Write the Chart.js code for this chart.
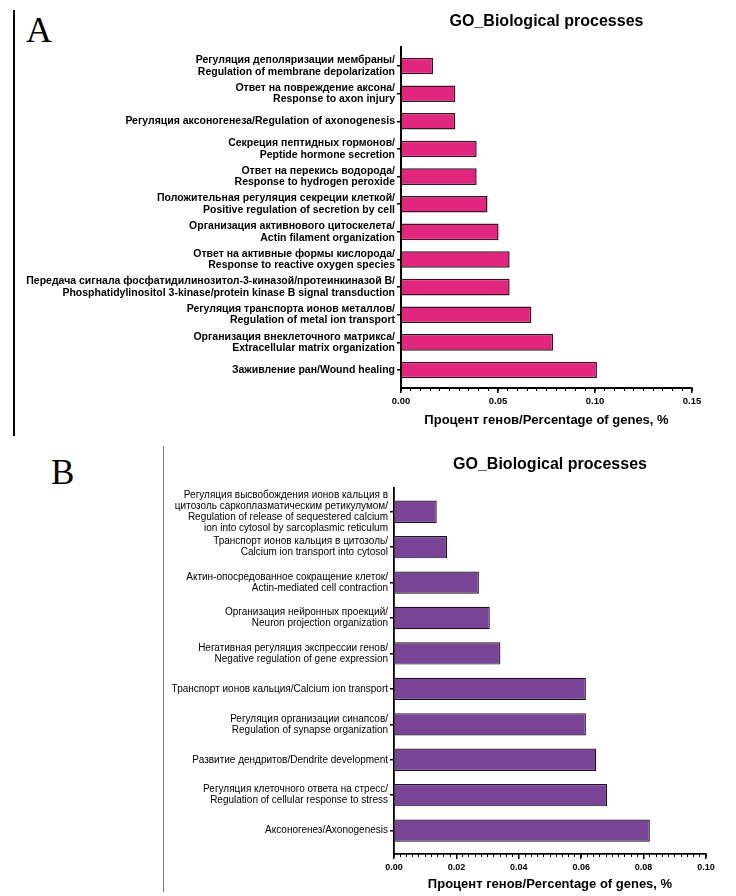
<!DOCTYPE html>
<html>
<head>
<meta charset="utf-8">
<script src="https://cdn.jsdelivr.net/npm/chart.js@4.4.1/dist/chart.umd.min.js"></script>
<style>
  body { margin: 0; background: #fff; }
  #page { position: relative; width: 736px; height: 896px; overflow: hidden; }
  canvas { position: absolute; left: 0; }
  #chartA { top: 0; }
  #chartB { top: 440px; }
  .letter { position: absolute; font-family: 'Liberation Serif', 'Times New Roman', serif; line-height: 1; color: #000; }
  .rule { position: absolute; }
</style>
</head>
<body>
<div id="page">
  <div class="rule" style="left:13px;top:10px;width:1.5px;height:426px;background:#000"></div>
  <div class="rule" style="left:163px;top:446px;width:1px;height:446px;background:#777"></div>
  <div class="letter" style="left:26px;top:12px;font-size:36px">A</div>
  <div class="letter" style="left:51px;top:455px;font-size:35px">B</div>
  <canvas id="chartA" width="736" height="440"></canvas>
  <canvas id="chartB" width="736" height="456"></canvas>
</div>
<script>
/* GO biological processes — two horizontal bar panels */

const TITLE = 'GO_Biological processes';
const X_TITLE = 'Процент генов/Percentage of genes, %';

// Panel A
const namesA = [
  ['Регуляция деполяризации мембраны/', 'Regulation of membrane depolarization'],
  ['Ответ на повреждение аксона/', 'Response to axon injury'],
  'Регуляция аксоногенеза/Regulation of axonogenesis',
  ['Секреция пептидных гормонов/', 'Peptide hormone secretion'],
  ['Ответ на перекись водорода/', 'Response to hydrogen peroxide'],
  ['Положительная регуляция секреции клеткой/', 'Positive regulation of secretion by cell'],
  ['Организация активнового цитоскелета/', 'Actin filament organization'],
  ['Ответ на активные формы кислорода/', 'Response to reactive oxygen species'],
  ['Передача сигнала фосфатидилинозитол-3-киназой/протеинкиназой B/', 'Phosphatidylinositol 3-kinase/protein kinase B signal transduction'],
  ['Регуляция транспорта ионов металлов/', 'Regulation of metal ion transport'],
  ['Организация внеклеточного матрикса/', 'Extracellular matrix organization'],
  'Заживление ран/Wound healing'
];
const valuesA = [0.0165, 0.028, 0.028, 0.039, 0.039, 0.0446, 0.0503, 0.056, 0.056, 0.0672, 0.0784, 0.101];
const ticksA = [0, 0.05, 0.10, 0.15];

// Panel B
const namesB = [
  ['Регуляция высвобождения ионов кальция в', 'цитозоль саркоплазматическим ретикулумом/', 'Regulation of release of sequestered calcium', 'ion into cytosol by sarcoplasmic reticulum'],
  ['Транспорт ионов кальция в цитозоль/', 'Calcium ion transport into cytosol'],
  ['Актин-опосредованное сокращение клеток/', 'Actin-mediated cell contraction'],
  ['Организация нейронных проекций/', 'Neuron projection organization'],
  ['Негативная регуляция экспрессии генов/', 'Negative regulation of gene expression'],
  'Транспорт ионов кальция/Calcium ion transport',
  ['Регуляция организации синапсов/', 'Regulation of synapse organization'],
  'Развитие дендритов/Dendrite development',
  ['Регуляция клеточного ответа на стресс/', 'Regulation of cellular response to stress'],
  'Аксоногенез/Axonogenesis'
];
const valuesB = [0.0137, 0.017, 0.0272, 0.0307, 0.0341, 0.0615, 0.0615, 0.0648, 0.0683, 0.082];
const ticksB = [0, 0.02, 0.04, 0.06, 0.08, 0.10];

const FONT = '"Liberation Sans", Arial, sans-serif';

// title centred over the plot area, like the original GraphPad layout
const panelTitle = {
  id: 'panelTitle',
  afterDraw(chart, args, o) {
    const { ctx, chartArea } = chart;
    ctx.save();
    ctx.font = 'bold 16px ' + FONT;
    ctx.fillStyle = '#000';
    ctx.textAlign = 'center';
    ctx.textBaseline = 'middle';
    ctx.fillText(o.text, (chartArea.left + chartArea.right) / 2, o.y);
    ctx.restore();
  }
};

function buildPanel(id, names, values, majorTicks, p) {
  const ctx = document.getElementById(id).getContext('2d');
  return new Chart(ctx, {
    type: 'bar',
    data: {
      datasets: [{
        data: values.map((v, i) => ({ x: v, y: i })),
        backgroundColor: p.fill,
        borderColor: p.edge,
        borderWidth: p.edgeWidth,
        borderSkipped: 'start',
        barPercentage: p.barPct,
        categoryPercentage: 1
      }]
    },
    options: {
      indexAxis: 'y',
      responsive: false,
      animation: false,
      layout: { padding: { left: 0, top: p.top, right: p.right, bottom: 0 } },
      plugins: {
        legend: { display: false },
        tooltip: { enabled: false },
        panelTitle: { text: TITLE, y: p.titleY }
      },
      scales: {
        y: {
          type: 'linear',
          reverse: true,
          offset: false,
          bounds: 'data',
          min: p.yMin,
          max: p.yMax,
          afterBuildTicks: s => { s.ticks = names.map((_, i) => ({ value: i })); },
          afterFit: s => { s.width = p.left; },
          border: { color: '#000', width: p.axisWidth },
          grid: { offset: false, drawOnChartArea: false, color: '#000', lineWidth: 1.5, tickLength: 4 },
          ticks: {
            autoSkip: false,
            padding: 2,
            color: '#000',
            font: { family: FONT, size: p.labelSize, weight: p.labelWeight, lineHeight: p.labelLine },
            callback: v => names[v]
          }
        },
        x: {
          type: 'linear',
          position: 'bottom',
          weight: 1,
          min: 0,
          max: majorTicks[majorTicks.length - 1],
          afterBuildTicks: s => { s.ticks = majorTicks.map(v => ({ value: v })); },
          afterFit: s => { s.height = p.xHeight; },
          border: { color: '#000', width: p.axisWidth },
          grid: { drawOnChartArea: false, color: '#000', lineWidth: 1.5, tickLength: 5 },
          ticks: {
            padding: 3,
            color: '#000',
            maxRotation: 0,
            font: { family: FONT, size: p.tickSize, weight: 'bold' },
            callback: v => v.toFixed(2)
          },
          title: {
            display: true,
            text: X_TITLE,
            color: '#000',
            font: { family: FONT, size: 13, weight: 'bold' },
            padding: { top: 0, bottom: p.titlePad }
          }
        },
        xMinor: {
          type: 'linear',
          position: 'bottom',
          weight: 0,
          min: 0,
          max: majorTicks[majorTicks.length - 1],
          afterFit: s => { s.height = 0; },
          border: { display: false },
          grid: { drawOnChartArea: false, color: '#000', lineWidth: 1, tickLength: 3 },
          ticks: { display: false, stepSize: p.minorStep }
        }
      }
    },
    plugins: [panelTitle]
  });
}

buildPanel('chartA', namesA, valuesA, ticksA, {
  fill: '#E2267E', edge: '#3a1226', edgeWidth: 1.5, barPct: 0.6,
  top: 47, right: 44, left: 401, xHeight: 52, titlePad: 12, titleY: 22,
  yMin: -0.69, yMax: 11.65, axisWidth: 2,
  labelSize: 10.5, labelWeight: 'bold', labelLine: 1.1, tickSize: 9.5,
  minorStep: 0.005
});

buildPanel('chartB', namesB, valuesB, ticksB, {
  fill: '#7A4496', edge: '#1c1020', edgeWidth: 1.2, barPct: 0.63,
  top: 48, right: 30, left: 394, xHeight: 42, titlePad: 4, titleY: 25,
  yMin: -0.67, yMax: 9.66, axisWidth: 1.8,
  labelSize: 10, labelWeight: 'normal', labelLine: 1.1, tickSize: 9,
  minorStep: 0.002
});
</script>
</body>
</html>
